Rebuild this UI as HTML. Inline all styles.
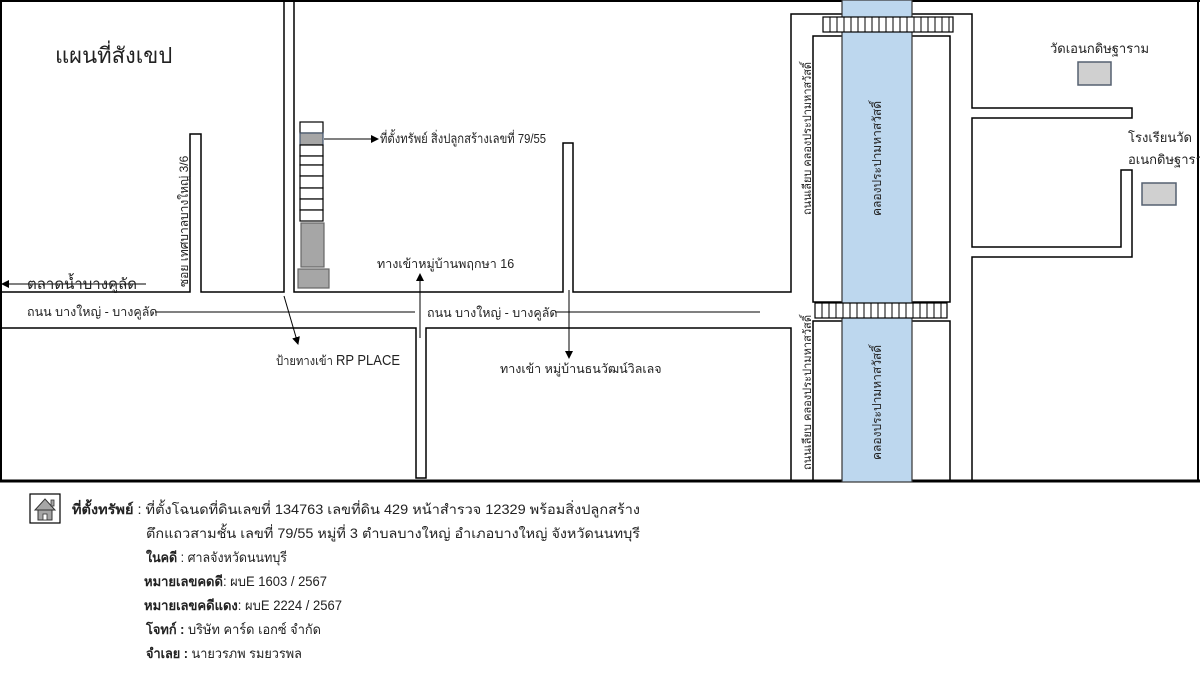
<!DOCTYPE html>
<html><head><meta charset="utf-8"><style>
html,body{margin:0;padding:0;background:#fff;}
svg{display:block;}
text{font-family:"Liberation Sans","Noto Sans CJK SC","WenQuanYi Zen Hei",sans-serif;fill:#222;}
</style></head><body>
<svg width="1200" height="675" viewBox="0 0 1200 675" xmlns="http://www.w3.org/2000/svg">
<defs>
<marker id="ah" markerWidth="8" markerHeight="8" refX="7" refY="4" orient="auto" markerUnits="userSpaceOnUse">
<path d="M0,0 L8,4 L0,8 z" fill="#000"/></marker>
</defs>
<rect x="0" y="0" width="1200" height="675" fill="#fff"/>
<g fill="none" stroke="#000" stroke-width="2">
<line x1="1" y1="0" x2="1" y2="481"/>
<line x1="0" y1="1" x2="1200" y2="1"/>
<line x1="1198" y1="0" x2="1198" y2="481"/>
</g>
<line x1="0" y1="481" x2="1200" y2="481" stroke="#000" stroke-width="3"/>
<g fill="none" stroke="#000" stroke-width="1.5">
<polyline points="0,292 190,292 190,134 201,134 201,292 284,292 284,0"/>
<polyline points="294,0 294,292 563,292 563,143 573,143 573,292 791,292 791,14 972,14 972,108 1132,108 1132,118 972,118 972,247 1121,247 1121,170 1132,170 1132,257 972,257 972,481"/>
<polyline points="0,328 416,328 416,478 426,478 426,328 791,328 791,481"/>
<rect x="813" y="36" width="137" height="266"/>
<rect x="813" y="321" width="137" height="160"/>
</g>
<rect x="842" y="0" width="70" height="482" fill="#bdd7ee" stroke="#333" stroke-width="1.2"/>
<g stroke="#000" stroke-width="1.2">
<rect x="823" y="17" width="130" height="15" fill="#fff"/>
<rect x="815" y="303" width="132" height="15" fill="#fff"/>
</g>
<g stroke="#000" stroke-width="1">
<path d="M830,17v15M837,17v15M844,17v15M851,17v15M858,17v15M865,17v15M872,17v15M879,17v15M886,17v15M893,17v15M900,17v15M907,17v15M914,17v15M921,17v15M928,17v15M935,17v15M942,17v15M949,17v15"/>
<path d="M822,303v15M829,303v15M836,303v15M843,303v15M850,303v15M857,303v15M864,303v15M871,303v15M878,303v15M885,303v15M892,303v15M899,303v15M906,303v15M913,303v15M920,303v15M927,303v15M934,303v15M941,303v15"/>
</g>
<rect x="1078" y="62" width="33" height="23" fill="#d0d0d0" stroke="#556070" stroke-width="1.5"/>
<rect x="1142" y="183" width="34" height="22" fill="#d0d0d0" stroke="#556070" stroke-width="1.5"/>
<g stroke="#000" stroke-width="1.2" fill="#fff">
<rect x="300" y="122" width="23" height="11"/>
<rect x="300" y="133" width="23" height="12" fill="#a6a6a6" stroke="#44546a"/>
<rect x="300" y="145" width="23" height="11"/>
<rect x="300" y="156" width="23" height="9"/>
<rect x="300" y="165" width="23" height="11"/>
<rect x="300" y="176" width="23" height="12"/>
<rect x="300" y="188" width="23" height="11"/>
<rect x="300" y="199" width="23" height="11"/>
<rect x="300" y="210" width="23" height="11"/>
</g>
<rect x="301" y="223" width="23" height="44" fill="#a6a6a6" stroke="#666" stroke-width="1.2"/>
<rect x="298" y="269" width="31" height="19" fill="#a6a6a6" stroke="#666" stroke-width="1.2"/>
<g stroke="#000" stroke-width="1" fill="none">
<line x1="324" y1="139" x2="378" y2="139" marker-end="url(#ah)"/>
<line x1="146" y1="284" x2="2" y2="284" marker-end="url(#ah)"/>
<line x1="155" y1="312" x2="415" y2="312"/>
<line x1="555" y1="312" x2="760" y2="312"/>
<line x1="284" y1="296" x2="298" y2="344" marker-end="url(#ah)"/>
<line x1="420" y1="338" x2="420" y2="274" marker-end="url(#ah)"/>
<line x1="569" y1="290" x2="569" y2="358" marker-end="url(#ah)"/>
</g>
<text x="55" y="63" font-size="22">แผนที่สังเขป</text>
<text x="380" y="143" font-size="13" textLength="166" lengthAdjust="spacingAndGlyphs">ที่ตั้งทรัพย์ สิ่งปลูกสร้างเลขที่ 79/55</text>
<text x="377" y="268" font-size="12.5">ทางเข้าหมู่บ้านพฤกษา 16</text>
<text x="27" y="289" font-size="15">ตลาดน้ำบางคูลัด</text>
<text x="27" y="316" font-size="12.5">ถนน บางใหญ่ - บางคูลัด</text>
<text x="427" y="317" font-size="12.5">ถนน บางใหญ่ - บางคูลัด</text>
<text x="276" y="365" font-size="12.5" textLength="124" lengthAdjust="spacingAndGlyphs">ป้ายทางเข้า <tspan font-size="14.5">RP PLACE</tspan></text>
<text x="500" y="373" font-size="12.5">ทางเข้า หมู่บ้านธนวัฒน์วิลเลจ</text>
<text transform="translate(188,287) rotate(-90)" font-size="12">ซอย เทศบาลบางใหญ่ 3/6</text>
<text transform="translate(811,215) rotate(-90)" font-size="11.5" textLength="153" lengthAdjust="spacingAndGlyphs">ถนนเลียบ คลองประปามหาสวัสดิ์</text>
<text transform="translate(811,470) rotate(-90)" font-size="11.5" textLength="155" lengthAdjust="spacingAndGlyphs">ถนนเลียบ คลองประปามหาสวัสดิ์</text>
<text transform="translate(881,216) rotate(-90)" font-size="12">คลองประปามหาสวัสดิ์</text>
<text transform="translate(881,460) rotate(-90)" font-size="12">คลองประปามหาสวัสดิ์</text>
<text x="1050" y="53" font-size="13">วัดเอนกดิษฐาราม</text>
<text x="1128" y="142" font-size="13">โรงเรียนวัด</text>
<text x="1128" y="164" font-size="13">อเนกดิษฐาราม</text>
<rect x="30" y="494" width="30" height="29" fill="#fff" stroke="#000" stroke-width="1.2"/>
<path d="M35,510 L45,499 L55,510 Z" fill="#a6a6a6" stroke="#333"/>
<rect x="51" y="500" width="3" height="6" fill="#a6a6a6" stroke="#333" stroke-width="0.8"/>
<rect x="38" y="510" width="14" height="10" fill="#a6a6a6" stroke="#333"/>
<rect x="43" y="514" width="4" height="6" fill="#fff" stroke="#333" stroke-width="0.8"/>
<g font-size="13.5">
<text x="72" y="514" textLength="568" lengthAdjust="spacingAndGlyphs"><tspan font-weight="bold">ที่ตั้งทรัพย์</tspan> : ที่ตั้งโฉนดที่ดินเลขที่  134763 เลขที่ดิน 429 หน้าสำรวจ 12329 พร้อมสิ่งปลูกสร้าง</text>
<text x="146" y="538" textLength="494" lengthAdjust="spacingAndGlyphs">ตึกแถวสามชั้น เลขที่ 79/55 หมู่ที่ 3 ตำบลบางใหญ่ อำเภอบางใหญ่ จังหวัดนนทบุรี</text>
<text x="146" y="562" textLength="141" lengthAdjust="spacingAndGlyphs"><tspan font-weight="bold">ในคดี</tspan> : ศาลจังหวัดนนทบุรี</text>
<text x="144" y="586" textLength="183" lengthAdjust="spacingAndGlyphs"><tspan font-weight="bold">หมายเลขคดดี</tspan>: ผบE 1603 / 2567</text>
<text x="144" y="610" textLength="198" lengthAdjust="spacingAndGlyphs"><tspan font-weight="bold">หมายเลขคดีแดง</tspan>: ผบE 2224 / 2567</text>
<text x="146" y="634" textLength="175" lengthAdjust="spacingAndGlyphs"><tspan font-weight="bold">โจทก์ :</tspan> บริษัท คาร์ด เอกซ์ จำกัด</text>
<text x="146" y="658" textLength="156" lengthAdjust="spacingAndGlyphs"><tspan font-weight="bold">จำเลย :</tspan> นายวรภพ รมยวรพล</text>
</g>
</svg>
</body></html>
